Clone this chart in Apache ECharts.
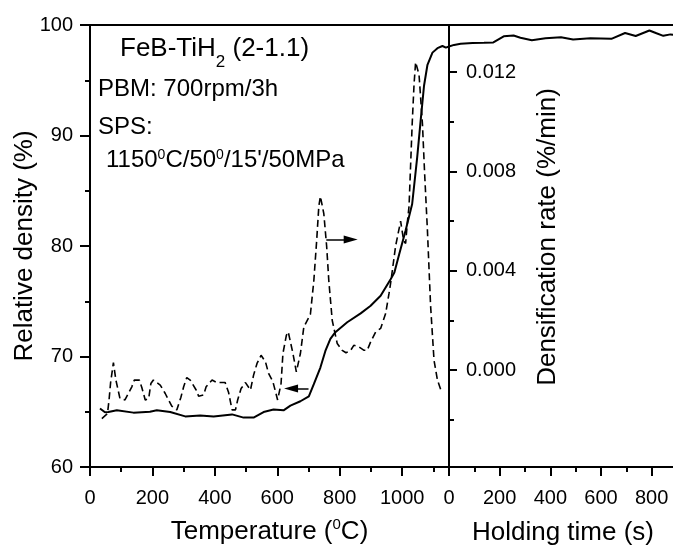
<!DOCTYPE html>
<html><head><meta charset="utf-8">
<script src="https://cdn.jsdelivr.net/npm/echarts@6/dist/echarts.min.js"></script>
<style>html,body{margin:0;padding:0;background:#fff}#c{width:673px;height:547px}</style>
</head><body><div id="c"></div>
<script>
// Relative density vs temperature (solid, left panel)
const tempSolid = [32, 48, 59, 86, 139, 192, 214, 257, 305, 353, 396, 455, 492, 524, 556, 588, 620, 642, 674, 701, 717, 738, 754, 770, 786, 824, 867, 899, 931, 963, 975, 990, 1011, 1032, 1048, 1059, 1070, 1081, 1097, 1113, 1129, 1140, 1150];
const densSolid = [65.3, 64.95, 64.97, 65.13, 64.92, 65.0, 65.13, 64.97, 64.58, 64.67, 64.58, 64.76, 64.47, 64.47, 64.97, 65.2, 65.13, 65.55, 65.95, 66.4, 67.5, 69.0, 70.5, 71.6, 72.2, 73.1, 73.9, 74.6, 75.5, 77.0, 77.6, 79.2, 81.4, 83.8, 88.0, 91.3, 94.5, 96.4, 97.5, 97.9, 98.1, 97.95, 98.05];
// Relative density vs holding time (solid, right panel)
const holdTime = [0, 20, 46, 93, 138, 175, 216, 255, 282, 327, 381, 442, 490, 558, 641, 695, 737, 791, 819, 846, 874, 890];
const densHold = [98.05, 98.2, 98.3, 98.38, 98.4, 98.42, 98.98, 99.05, 98.85, 98.62, 98.8, 98.9, 98.68, 98.8, 98.75, 99.28, 99.0, 99.5, 99.25, 99.02, 99.15, 99.1];
// Densification rate vs temperature (dashed)
const tempRate = [38, 56, 61, 66, 75, 83, 96, 112, 134, 142, 158, 166, 177, 188, 195, 203, 225, 241, 262, 278, 291, 300, 310, 321, 340, 348, 364, 372, 391, 407, 433, 444, 455, 466, 473, 484, 498, 514, 524, 535, 548, 562, 572, 586, 601, 612, 618, 629, 635, 650, 661, 674, 685, 706, 717, 726, 733, 738, 749, 758, 765, 776, 792, 808, 820, 835, 845, 860, 878, 888, 899, 915, 931, 947, 958, 963, 979, 995, 1005, 1011, 1017, 1022, 1032, 1038, 1043, 1054, 1065, 1072, 1081, 1091, 1102, 1113, 1124];
const rateVals = [-0.00195, -0.00175, -0.0012, -0.0005, 0.0003, -0.0004, -0.00114, -0.0012, -0.00067, -0.0004, -0.0004, -0.0007, -0.0012, -0.00114, -0.00054, -0.0004, -0.0006, -0.00094, -0.00145, -0.0016, -0.0011, -0.00067, -0.0003, -0.0004, -0.0008, -0.00105, -0.001, -0.00067, -0.0004, -0.0005, -0.0005, -0.0009, -0.0016, -0.0016, -0.0012, -0.00074, -0.0005, -0.0008, -0.0002, 0.00027, 0.0006, 0.00034, -0.00013, -0.00047, -0.0012, -0.00054, 0.00067, 0.0014, 0.00154, 0.00068, -0.00007, 0.00067, 0.00174, 0.00225, 0.0036, 0.0052, 0.0066, 0.0070, 0.0063, 0.0050, 0.0036, 0.0020, 0.00107, 0.0008, 0.0007, 0.0008, 0.0010, 0.00095, 0.0008, 0.0008, 0.00114, 0.00154, 0.00168, 0.00228, 0.0031, 0.0035, 0.0050, 0.0060, 0.0052, 0.0051, 0.0060, 0.0066, 0.0099, 0.0115, 0.0124, 0.0119, 0.0099, 0.0079, 0.0056, 0.0026, 0.0004, -0.0004, -0.0008];
// Tick values
const tempTicksMajor = [0, 200, 400, 600, 800, 1000];
const tempTicksMinor = [100, 300, 500, 700, 900, 1100];
const holdTicksMajor = [0, 200, 400, 600, 800];
const holdTicksMinor = [100, 300, 500, 700, 900];
const densTicksMajor = [60, 70, 80, 90, 100];
const densTicksMinor = [65, 75, 85, 95];
const rateTicksMajor = [0, 0.004, 0.008, 0.012];
const rateTicksMinor = [-0.002, 0.002, 0.006, 0.010];

const zip = (a, b) => a.map((x, i) => [x, b[i]]);
const FONT = '"Liberation Sans", Arial, sans-serif';
const BLK = '#000';
const lineS = { show: true, onZero: false, lineStyle: { color: BLK, width: 2 } };
const noLine = { show: false, onZero: false };
const tickS = (vals, len) => ({ show: true, customValues: vals, length: len, lineStyle: { color: BLK, width: 2 } });
const labS = (vals, margin, fmt) => ({ show: true, customValues: vals, color: BLK, fontSize: 20, fontFamily: FONT, margin: margin, formatter: fmt || (v => String(v)) });
const richName = {
  a: { fontSize: 26, fontFamily: FONT, color: BLK, lineHeight: 28, verticalAlign: 'bottom' },
  s: { fontSize: 15, fontFamily: FONT, color: BLK, lineHeight: 15, verticalAlign: 'top' }
};

const option = {
  animation: false,
  backgroundColor: '#fff',
  grid: [
    { left: 90, top: 25, width: 359, bottom: 80, show: true, borderColor: BLK, borderWidth: 2, containLabel: false, outerBoundsMode: 'none' },
    { left: 449, top: 25, right: -4, bottom: 80, show: true, borderColor: BLK, borderWidth: 2, containLabel: false, outerBoundsMode: 'none' }
  ],
  xAxis: [
    { type: 'value', gridIndex: 0, position: 'bottom', min: 0, max: 1150,
      axisLine: lineS, axisTick: tickS(tempTicksMajor, 9), axisLabel: labS(tempTicksMajor, 21), splitLine: { show: false },
      name: '{a|Temperature (}{s|0}{a|C)}', nameLocation: 'middle', nameGap: 50,
      nameTextStyle: { fontSize: 26, fontFamily: FONT, color: BLK, rich: richName } },
    { type: 'value', gridIndex: 0, position: 'bottom', min: 0, max: 1150,
      axisLine: noLine, axisTick: tickS(tempTicksMinor, 5), axisLabel: { show: false }, splitLine: { show: false } },
    { type: 'value', gridIndex: 1, position: 'bottom', min: 0, max: 900,
      axisLine: lineS, axisTick: tickS(holdTicksMajor, 9), axisLabel: labS(holdTicksMajor, 21), splitLine: { show: false },
      name: 'Holding time (s)', nameLocation: 'middle', nameGap: 53,
      nameTextStyle: { fontSize: 26, fontFamily: FONT, color: BLK } },
    { type: 'value', gridIndex: 1, position: 'bottom', min: 0, max: 900,
      axisLine: noLine, axisTick: tickS(holdTicksMinor, 5), axisLabel: { show: false }, splitLine: { show: false } }
  ],
  yAxis: [
    { type: 'value', gridIndex: 0, position: 'left', min: 60, max: 100,
      axisLine: lineS, axisTick: tickS(densTicksMajor, 10), axisLabel: labS(densTicksMajor, 17), splitLine: { show: false },
      name: 'Relative density (%)', nameLocation: 'middle', nameGap: 52, nameRotate: 90, nameMoveOverlap: false,
      nameTextStyle: { fontSize: 26, fontFamily: FONT, color: BLK } },
    { type: 'value', gridIndex: 0, position: 'left', min: 60, max: 100,
      axisLine: noLine, axisTick: tickS(densTicksMinor, 5), axisLabel: { show: false }, splitLine: { show: false } },
    { type: 'value', gridIndex: 0, position: 'right', min: -0.0039, max: 0.0139,
      axisLine: lineS, axisTick: tickS(rateTicksMajor, 8), axisLabel: labS(rateTicksMajor, 17, v => v.toFixed(3)), splitLine: { show: false },
      name: 'Densification rate (%/min)', nameLocation: 'middle', nameGap: 86, nameRotate: 90,
      nameTextStyle: { fontSize: 26, fontFamily: FONT, color: BLK, padding: [0, 0, 0, 18] } },
    { type: 'value', gridIndex: 0, position: 'right', min: -0.0039, max: 0.0139,
      axisLine: noLine, axisTick: tickS(rateTicksMinor, 5), axisLabel: { show: false }, splitLine: { show: false } },
    { type: 'value', gridIndex: 1, position: 'left', min: 60, max: 100, show: false }
  ],
  series: [
    { name: 'density-T', type: 'line', xAxisIndex: 0, yAxisIndex: 0, data: zip(tempSolid, densSolid),
      showSymbol: false, symbol: 'none', lineStyle: { color: BLK, width: 2 }, silent: true,
      markLine: { silent: true, symbol: ['none', 'triangle'], symbolSize: [8, 14],
        lineStyle: { color: BLK, width: 1.5, type: 'solid' }, label: { show: false },
        data: [[{ coord: [700, 67.1] }, { coord: [644, 67.1] }]] } },
    { name: 'rate-T', type: 'line', xAxisIndex: 0, yAxisIndex: 2, data: zip(tempRate, rateVals),
      showSymbol: false, symbol: 'none', lineStyle: { color: BLK, width: 1.6, type: [7, 4] }, silent: true,
      markLine: { silent: true, symbol: ['none', 'triangle'], symbolSize: [8, 14],
        lineStyle: { color: BLK, width: 1.5, type: 'solid' }, label: { show: false },
        data: [[{ coord: [757, 0.00526] }, { coord: [835, 0.00526] }]] } },
    { name: 'density-t', type: 'line', xAxisIndex: 2, yAxisIndex: 4, data: zip(holdTime, densHold),
      showSymbol: false, symbol: 'none', lineStyle: { color: BLK, width: 2 }, silent: true }
  ],
  graphic: [
    { type: 'text', left: 120, top: 26, silent: true,
      style: { text: '{a|FeB-TiH}{b|2}{a| (2-1.1)}',
        rich: { a: { fontSize: 26, fontFamily: FONT, fill: BLK, lineHeight: 26, verticalAlign: 'middle' },
                b: { fontSize: 17, fontFamily: FONT, fill: BLK, lineHeight: 17, verticalAlign: 'middle', padding: [28, 0, 0, 0] } } } },
    { type: 'text', left: 98, top: 77, silent: true,
      style: { text: 'PBM: 700rpm/3h', fontSize: 24, fontFamily: FONT, fill: BLK } },
    { type: 'text', left: 98, top: 115, silent: true,
      style: { text: 'SPS:', fontSize: 24, fontFamily: FONT, fill: BLK } },
    { type: 'text', left: 106, top: 148, silent: true,
      style: { text: "{a|1150}{s|0}{a|C/50}{s|0}{a|/15'/50MPa}",
        rich: { a: { fontSize: 24, fontFamily: FONT, fill: BLK, lineHeight: 24, verticalAlign: 'bottom' },
                s: { fontSize: 14, fontFamily: FONT, fill: BLK, lineHeight: 14, verticalAlign: 'top' } } } }
  ]
};
const chart = echarts.init(document.getElementById('c'));
chart.setOption(option);
</script>
</body></html>
